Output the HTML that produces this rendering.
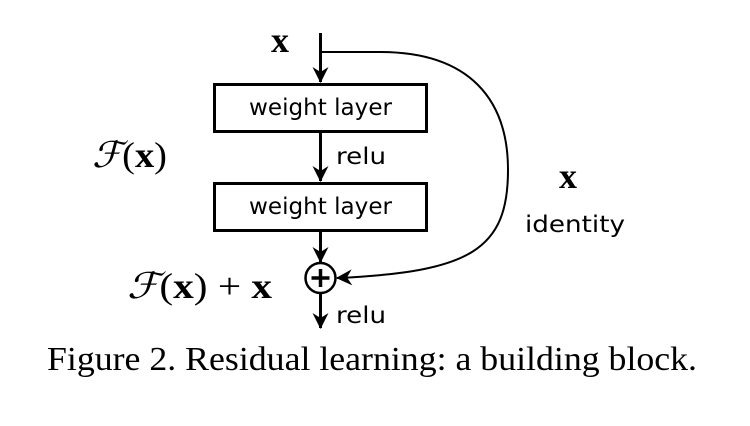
<!DOCTYPE html>
<html><head><style>
body{margin:0;background:#fff;width:750px;height:421px;overflow:hidden}
</style></head><body>
<svg width="750" height="421" viewBox="0 0 750 421" xmlns="http://www.w3.org/2000/svg">
<defs>
<marker id="b" markerWidth="16" markerHeight="16" refX="15" refY="8" orient="auto" markerUnits="userSpaceOnUse"><path d="M0,0 L16,8 L0,16 L5,8 z" fill="#000"/></marker></defs>
<g stroke="#000" fill="none">
<line x1="320.5" y1="33" x2="320.5" y2="82" stroke-width="3" marker-end="url(#b)"/>
<rect x="214.5" y="84.5" width="212" height="47" stroke-width="3"/>
<line x1="320.5" y1="132" x2="320.5" y2="181" stroke-width="3" marker-end="url(#b)"/>
<rect x="214.5" y="183.5" width="212" height="47" stroke-width="3"/>
<line x1="320.5" y1="231" x2="320.5" y2="262" stroke-width="3" marker-end="url(#b)"/>
<circle cx="320.5" cy="278" r="15" stroke-width="2.5"/>
<line x1="320.5" y1="269" x2="320.5" y2="287" stroke-width="3.5"/>
<line x1="311.5" y1="278" x2="329.5" y2="278" stroke-width="3.5"/>
<line x1="320.5" y1="293" x2="320.5" y2="328" stroke-width="3" marker-end="url(#b)"/>
<path d="M322,52 L380,52 C470,52 508,100 508,170 C508,250 470,272 337,278" stroke-width="2" marker-end="url(#b)"/>
</g>
<g font-family="'DejaVu Sans','Liberation Sans',sans-serif" font-size="23" fill="#000">
<text x="249" y="115" textLength="143" lengthAdjust="spacingAndGlyphs">weight layer</text>
<text x="249" y="214" textLength="143" lengthAdjust="spacingAndGlyphs">weight layer</text>
<text x="336" y="164" textLength="50" lengthAdjust="spacingAndGlyphs">relu</text>
<text x="336" y="323" textLength="50" lengthAdjust="spacingAndGlyphs">relu</text>
<text x="525" y="232" textLength="100" lengthAdjust="spacingAndGlyphs">identity</text>
</g>
<g font-family="'Liberation Serif',serif" fill="#000">
<text x="271" y="52" font-size="36" font-weight="bold">x</text>
<text x="559" y="188" font-size="36" font-weight="bold">x</text>
<text x="92" y="167" font-size="36" textLength="75" lengthAdjust="spacingAndGlyphs"><tspan font-style="italic">ℱ</tspan>(<tspan font-weight="bold">x</tspan>)</text>
<text x="127" y="298" font-size="36" textLength="145" lengthAdjust="spacingAndGlyphs"><tspan font-style="italic">ℱ</tspan>(<tspan font-weight="bold">x</tspan>) + <tspan font-weight="bold">x</tspan></text>
<text x="47" y="370" font-size="34" textLength="650" lengthAdjust="spacingAndGlyphs">Figure 2. Residual learning: a building block.</text>
</g>
</svg>
</body></html>
